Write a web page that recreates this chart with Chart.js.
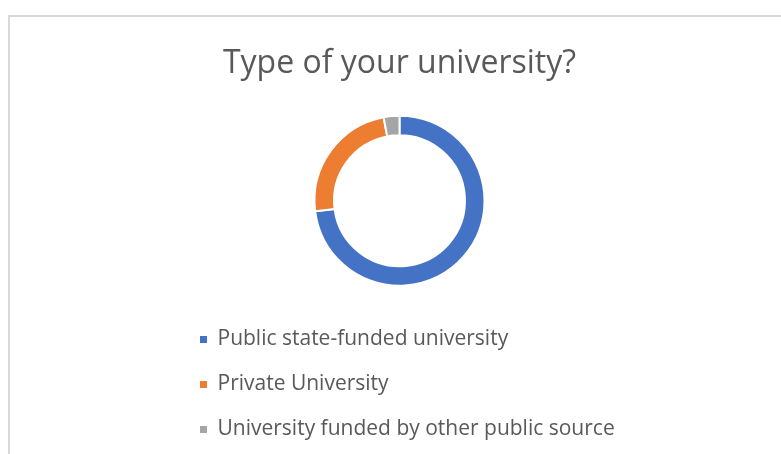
<!DOCTYPE html>
<html>
<head>
<meta charset="utf-8">
<script src="https://cdn.jsdelivr.net/npm/chart.js@4/dist/chart.umd.min.js"></script>
<style>
  html, body { margin: 0; padding: 0; background: #ffffff; overflow: hidden; }
  #stage { position: relative; width: 781px; height: 454px; overflow: hidden; }
  #frame {
    position: absolute; left: 8px; top: 15px; width: 900px; height: 600px;
    border: 2px solid #d9d9d9; box-sizing: border-box; background: #ffffff;
  }
  #chart { position: absolute; left: 0; top: 0; }
</style>
</head>
<body>
<div id="stage">
  <div id="frame"></div>
  <canvas id="chart" width="781" height="454"></canvas>
</div>
<script>
// University types and their share of responses (%)
const chartTitle = 'Type of your university?';
const categories = [
  'Public state-funded university',
  'Private University',
  'University funded by other public source'
];
const shares = [73, 24, 3];
const sliceColors = ['#4472C4', '#ED7D31', '#A5A5A5'];

const textColor = '#595959';
const fontFamily = '"Open Sans", sans-serif';

new Chart(document.getElementById('chart'), {
  type: 'doughnut',
  data: {
    labels: categories,
    datasets: [{
      data: shares,
      backgroundColor: sliceColors,
      borderColor: '#ffffff',
      borderWidth: 2
    }]
  },
  options: {
    responsive: false,
    animation: false,
    devicePixelRatio: 1,
    radius: 85,
    cutout: '77%',
    layout: { padding: { left: 176, right: 158, top: 0, bottom: 4 } },
    plugins: {
      tooltip: { enabled: false },
      title: {
        display: true,
        text: chartTitle,
        color: textColor,
        font: { family: fontFamily, size: 32, weight: 'normal' },
        padding: { top: 45, bottom: 13 }
      },
      legend: {
        position: 'bottom',
        align: 'start',
        labels: {
          color: textColor,
          font: { family: fontFamily, size: 21 },
          boxWidth: 7,
          boxHeight: 7,
          padding: 24,
          generateLabels(chart) {
            const items = Chart.overrides.doughnut.plugins.legend.labels.generateLabels(chart);
            items.forEach(it => { it.lineWidth = 0; });
            return items;
          }
        }
      }
    }
  }
});
</script>
</body>
</html>
